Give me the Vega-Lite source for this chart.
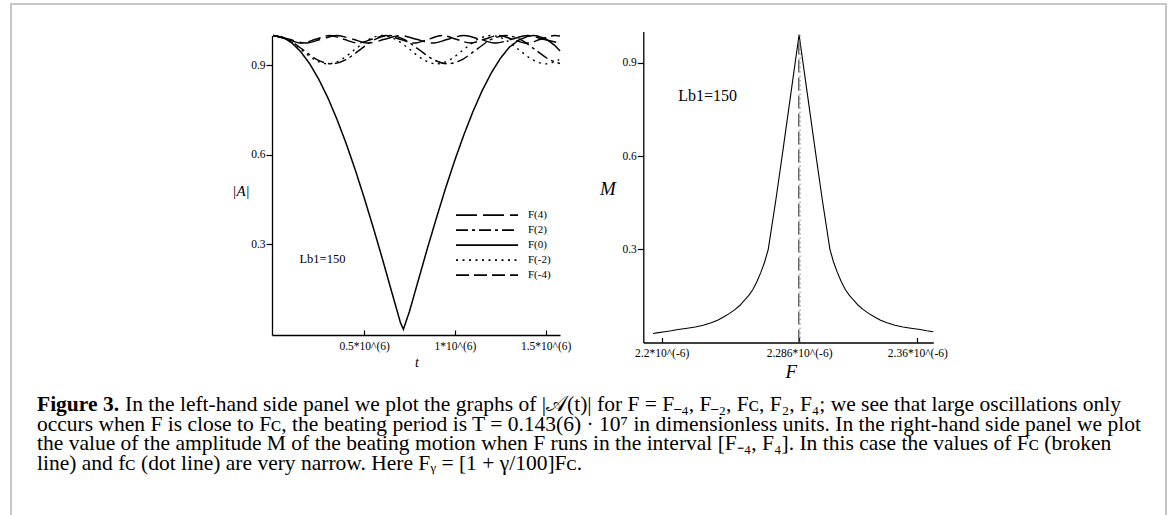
{
  "$schema": "https://vega.github.io/schema/vega-lite/v6.json",
  "width": 1155,
  "height": 515,
  "autosize": {"type": "none"},
  "padding": {"left": 11, "top": 4, "right": 7, "bottom": -4},
  "background": "white",
  "config": {
    "view": {"stroke": "#c6c6c6", "strokeWidth": 2},
    "font": "Liberation Serif",
    "axis": {
      "domainColor": "black", "tickColor": "black", "labelColor": "black", "titleColor": "black",
      "grid": false, "labelFont": "Liberation Serif", "titleFont": "Liberation Serif",
      "titleFontWeight": "normal", "domainWidth": 1.3, "tickWidth": 1.2, "labelFontSize": 11.5,
      "labelFlush": false, "labelOverlap": false
    },
    "legend": {"labelFont": "Liberation Serif", "labelColor": "black"}
  },
  "datasets": {
    "A0": [
      {"s":"F(0)","t":0,"A":1.0},{"s":"F(0)","t":0.05,"A":0.994},{"s":"F(0)","t":0.1,"A":0.976},{"s":"F(0)","t":0.15,"A":0.946},
      {"s":"F(0)","t":0.2,"A":0.905},{"s":"F(0)","t":0.25,"A":0.853},{"s":"F(0)","t":0.3,"A":0.791},{"s":"F(0)","t":0.35,"A":0.719},
      {"s":"F(0)","t":0.4,"A":0.639},{"s":"F(0)","t":0.45,"A":0.551},{"s":"F(0)","t":0.5,"A":0.456},{"s":"F(0)","t":0.55,"A":0.356},
      {"s":"F(0)","t":0.6,"A":0.252},{"s":"F(0)","t":0.65,"A":0.144},{"s":"F(0)","t":0.7,"A":0.037},{"s":"F(0)","t":0.716,"A":0.015},
      {"s":"F(0)","t":0.75,"A":0.076},{"s":"F(0)","t":0.8,"A":0.183},{"s":"F(0)","t":0.85,"A":0.29},{"s":"F(0)","t":0.9,"A":0.392},
      {"s":"F(0)","t":0.95,"A":0.491},{"s":"F(0)","t":1.0,"A":0.583},{"s":"F(0)","t":1.05,"A":0.668},{"s":"F(0)","t":1.1,"A":0.746},
      {"s":"F(0)","t":1.15,"A":0.815},{"s":"F(0)","t":1.2,"A":0.874},{"s":"F(0)","t":1.25,"A":0.923},{"s":"F(0)","t":1.3,"A":0.961},
      {"s":"F(0)","t":1.35,"A":0.984},{"s":"F(0)","t":1.4,"A":0.997},{"s":"F(0)","t":1.432,"A":1.0},{"s":"F(0)","t":1.45,"A":0.999},
      {"s":"F(0)","t":1.5,"A":0.989},{"s":"F(0)","t":1.55,"A":0.967},{"s":"F(0)","t":1.579,"A":0.948}
    ],
    "Aosc": [
      {"s":"F(4)","t":0,"A":1},{"s":"F(4)","t":0.0875,"A":0.9874},{"s":"F(4)","t":0.175,"A":0.9747},{"s":"F(4)","t":0.2625,"A":0.9874},
      {"s":"F(4)","t":0.35,"A":1},{"s":"F(4)","t":0.4375,"A":0.9874},{"s":"F(4)","t":0.525,"A":0.9747},{"s":"F(4)","t":0.6125,"A":0.9874},
      {"s":"F(4)","t":0.7,"A":1},{"s":"F(4)","t":0.7875,"A":0.9874},{"s":"F(4)","t":0.875,"A":0.9747},{"s":"F(4)","t":0.9625,"A":0.9874},
      {"s":"F(4)","t":1.05,"A":1},{"s":"F(4)","t":1.1375,"A":0.9874},{"s":"F(4)","t":1.225,"A":0.9747},{"s":"F(4)","t":1.3125,"A":0.9874},
      {"s":"F(4)","t":1.4,"A":1},{"s":"F(4)","t":1.4875,"A":0.9874},{"s":"F(4)","t":1.575,"A":0.9747},

      {"s":"F(-4)","t":0,"A":1},{"s":"F(-4)","t":0.0775,"A":0.9874},{"s":"F(-4)","t":0.155,"A":0.9747},{"s":"F(-4)","t":0.2325,"A":0.9874},
      {"s":"F(-4)","t":0.31,"A":1},{"s":"F(-4)","t":0.3875,"A":0.9874},{"s":"F(-4)","t":0.465,"A":0.9747},{"s":"F(-4)","t":0.5425,"A":0.9874},
      {"s":"F(-4)","t":0.62,"A":1},{"s":"F(-4)","t":0.6975,"A":0.9874},{"s":"F(-4)","t":0.775,"A":0.9747},{"s":"F(-4)","t":0.8525,"A":0.9874},
      {"s":"F(-4)","t":0.93,"A":1},{"s":"F(-4)","t":1.0075,"A":0.9874},{"s":"F(-4)","t":1.085,"A":0.9747},{"s":"F(-4)","t":1.1625,"A":0.9874},
      {"s":"F(-4)","t":1.24,"A":1},{"s":"F(-4)","t":1.3175,"A":0.9874},{"s":"F(-4)","t":1.395,"A":0.9747},{"s":"F(-4)","t":1.4725,"A":0.9874},
      {"s":"F(-4)","t":1.55,"A":1},{"s":"F(-4)","t":1.579,"A":0.9983},

      {"s":"F(2)","t":0,"A":1},{"s":"F(2)","t":0.08,"A":0.9867},{"s":"F(2)","t":0.16,"A":0.9537},{"s":"F(2)","t":0.24,"A":0.9195},
      {"s":"F(2)","t":0.32,"A":0.905},{"s":"F(2)","t":0.4,"A":0.9195},{"s":"F(2)","t":0.48,"A":0.9537},{"s":"F(2)","t":0.56,"A":0.9867},
      {"s":"F(2)","t":0.64,"A":1},{"s":"F(2)","t":0.72,"A":0.9867},{"s":"F(2)","t":0.8,"A":0.9537},{"s":"F(2)","t":0.88,"A":0.9195},
      {"s":"F(2)","t":0.96,"A":0.905},{"s":"F(2)","t":1.04,"A":0.9195},{"s":"F(2)","t":1.12,"A":0.9537},{"s":"F(2)","t":1.2,"A":0.9867},
      {"s":"F(2)","t":1.28,"A":1},{"s":"F(2)","t":1.36,"A":0.9867},{"s":"F(2)","t":1.44,"A":0.9537},{"s":"F(2)","t":1.52,"A":0.9195},
      {"s":"F(2)","t":1.579,"A":0.906},

      {"s":"F(-2)","t":0,"A":1},{"s":"F(-2)","t":0.075,"A":0.9867},{"s":"F(-2)","t":0.15,"A":0.9537},{"s":"F(-2)","t":0.225,"A":0.9195},
      {"s":"F(-2)","t":0.3,"A":0.905},{"s":"F(-2)","t":0.375,"A":0.9195},{"s":"F(-2)","t":0.45,"A":0.9537},{"s":"F(-2)","t":0.525,"A":0.9867},
      {"s":"F(-2)","t":0.6,"A":1},{"s":"F(-2)","t":0.675,"A":0.9867},{"s":"F(-2)","t":0.75,"A":0.9537},{"s":"F(-2)","t":0.825,"A":0.9195},
      {"s":"F(-2)","t":0.9,"A":0.905},{"s":"F(-2)","t":0.975,"A":0.9195},{"s":"F(-2)","t":1.05,"A":0.9537},{"s":"F(-2)","t":1.125,"A":0.9867},
      {"s":"F(-2)","t":1.2,"A":1},{"s":"F(-2)","t":1.275,"A":0.9867},{"s":"F(-2)","t":1.35,"A":0.9537},{"s":"F(-2)","t":1.425,"A":0.9195},
      {"s":"F(-2)","t":1.5,"A":0.905},{"s":"F(-2)","t":1.575,"A":0.9195}
    ],
    "M": [
      {"F":2.1946,"M":0.029},{"F":2.198,"M":0.032},{"F":2.202,"M":0.035},{"F":2.206,"M":0.038},{"F":2.2103,"M":0.042},
      {"F":2.216,"M":0.046},{"F":2.221,"M":0.05},{"F":2.226,"M":0.056},{"F":2.231,"M":0.064},{"F":2.235,"M":0.072},
      {"F":2.239,"M":0.083},{"F":2.2425,"M":0.094},{"F":2.246,"M":0.107},{"F":2.249,"M":0.12},{"F":2.252,"M":0.137},
      {"F":2.2545,"M":0.152},{"F":2.257,"M":0.17},{"F":2.2595,"M":0.195},{"F":2.262,"M":0.225},{"F":2.2645,"M":0.26},
      {"F":2.2667,"M":0.3},{"F":2.2715,"M":0.46},{"F":2.276,"M":0.622},{"F":2.281,"M":0.806},{"F":2.286,"M":0.99},
      {"F":2.291,"M":0.806},{"F":2.296,"M":0.622},{"F":2.3005,"M":0.46},{"F":2.3053,"M":0.3},{"F":2.3075,"M":0.26},
      {"F":2.31,"M":0.225},{"F":2.3125,"M":0.195},{"F":2.315,"M":0.17},{"F":2.3175,"M":0.152},{"F":2.32,"M":0.137},
      {"F":2.323,"M":0.12},{"F":2.326,"M":0.107},{"F":2.3295,"M":0.094},{"F":2.333,"M":0.083},{"F":2.337,"M":0.072},
      {"F":2.341,"M":0.064},{"F":2.346,"M":0.056},{"F":2.351,"M":0.05},{"F":2.356,"M":0.046},{"F":2.3617,"M":0.042},
      {"F":2.366,"M":0.038},{"F":2.37,"M":0.035}
    ]
  },
  "layer": [
    {
      "layer": [
        {
          "data": {"name": "Aosc"},
          "mark": {"type": "line", "interpolate": "monotone", "color": "black", "strokeWidth": 1.4},
          "encoding": {
            "x": {"field": "t", "type": "quantitative",
              "scale": {"domain": [-0.008, 1.579], "range": [261, 549], "nice": false, "zero": false},
              "axis": {"orient": "bottom", "offset": -184, "values": [0.5, 1, 1.5],
                "labelExpr": "datum.value + '*10^(6)'", "tickSize": -5, "labelPadding": 10,
                "title": "t", "titleFontStyle": "italic", "titleFontSize": 14, "titleX": 405.5, "titleY": 27.5,
                "titleAngle": 0, "titleAlign": "center", "titleBaseline": "middle"}},
            "y": {"field": "A", "type": "quantitative",
              "scale": {"domain": [-0.004, 1.0], "range": [331, 31.5], "nice": false, "zero": false},
              "axis": {"orient": "left", "offset": -261, "values": [0.3, 0.6, 0.9], "format": ".1f",
                "tickSize": 6, "labelPadding": 1,
                "title": "|A|", "titleFontStyle": "italic", "titleFontSize": 15, "titleX": -31.5, "titleY": 186,
                "titleAngle": 0, "titleAlign": "center", "titleBaseline": "middle"}},
            "strokeDash": {"field": "s", "type": "nominal",
              "scale": {"domain": ["F(4)", "F(2)", "F(0)", "F(-2)", "F(-4)"],
                "range": [[21, 6], [12, 4, 3, 4], [1, 0], [2, 4.5], [13, 5]]},
              "legend": {"orient": "none", "legendX": 444, "legendY": 203.7, "title": null,
                "symbolType": "stroke", "symbolSize": 3844, "symbolStrokeWidth": 1.8,
                "symbolStrokeColor": "black", "clipHeight": 14.7, "rowPadding": 0, "padding": 0,
                "labelFontSize": 11, "labelOffset": 9, "direction": "vertical"}}
          }
        },
        {
          "data": {"name": "A0"},
          "mark": {"type": "line", "color": "black", "strokeWidth": 1.5},
          "encoding": {
            "x": {"field": "t", "type": "quantitative"},
            "y": {"field": "A", "type": "quantitative"},
            "strokeDash": {"field": "s", "type": "nominal"}
          }
        },
        {
          "data": {"values": [{"label": "Lb1=150"}]},
          "mark": {"type": "text", "fontSize": 12.5, "font": "Liberation Serif", "color": "black"},
          "encoding": {
            "x": {"datum": 0.27, "type": "quantitative"},
            "y": {"datum": 0.251, "type": "quantitative"},
            "text": {"field": "label"}
          }
        }
      ]
    },
    {
      "layer": [
        {
          "data": {"name": "M"},
          "mark": {"type": "line", "color": "black", "strokeWidth": 1.1},
          "encoding": {
            "x": {"field": "F", "type": "quantitative",
              "scale": {"domain": [2.1885, 2.37], "range": [632.3, 922.3], "nice": false, "zero": false},
              "axis": {"orient": "bottom", "offset": -176.5, "values": [2.2, 2.286, 2.36],
                "labelExpr": "datum.value + '*10^(-6)'", "tickSize": -5, "labelPadding": 10,
                "title": "F", "titleFontStyle": "italic", "titleFontSize": 19, "titleX": 779.7, "titleY": 29.2,
                "titleAngle": 0, "titleAlign": "center", "titleBaseline": "middle"}},
            "y": {"field": "M", "type": "quantitative",
              "scale": {"domain": [0, 1], "range": [338.6, 27.6], "nice": false, "zero": false},
              "axis": {"orient": "left", "offset": -632.3, "values": [0.3, 0.6, 0.9], "format": ".1f",
                "tickSize": 6, "labelPadding": 1,
                "title": "M", "titleFontStyle": "italic", "titleFontSize": 19, "titleX": -35.8, "titleY": 184,
                "titleAngle": 0, "titleAlign": "center", "titleBaseline": "middle"}}
          }
        },
        {
          "data": {"values": [{}]},
          "mark": {"type": "rule", "color": "#555555", "strokeWidth": 1.3, "strokeDash": [13, 5]},
          "encoding": {
            "x": {"datum": 2.2858, "type": "quantitative"},
            "y": {"datum": 0, "type": "quantitative"},
            "y2": {"datum": 0.99}
          }
        },
        {
          "data": {"values": [{}]},
          "mark": {"type": "rule", "color": "#777777", "strokeWidth": 1, "strokeDash": [1.5, 3]},
          "encoding": {
            "x": {"datum": 2.2866, "type": "quantitative"},
            "y": {"datum": 0, "type": "quantitative"},
            "y2": {"datum": 0.99}
          }
        },
        {
          "data": {"values": [{"label": "Lb1=150"}]},
          "mark": {"type": "text", "fontSize": 16, "font": "Liberation Serif", "color": "black"},
          "encoding": {
            "x": {"datum": 2.2287, "type": "quantitative"},
            "y": {"datum": 0.793, "type": "quantitative"},
            "text": {"field": "label"}
          }
        }
      ]
    },
    {
      "layer": [
        {
          "data": {"values": [{"line": 1, "text": "Figure 3."}]},
          "mark": {"type": "text", "align": "left", "baseline": "middle", "fontSize": 21.5, "fontWeight": "bold", "font": "Liberation Serif", "color": "black"},
          "encoding": {
            "x": {"datum": 0, "type": "quantitative", "scale": {"domain": [0, 1], "range": [26, 1100], "nice": false, "zero": false}, "axis": null},
            "y": {"field": "line", "type": "quantitative", "scale": {"domain": [1, 4], "range": [401, 459.5], "nice": false, "zero": false}, "axis": null},
            "text": {"field": "text"}
          }
        },
        {
          "data": {"values": [{"line": 1, "text": "In the left-hand side panel we plot the graphs of |𝒜(t)| for F = F₋₄, F₋₂, Fᴄ, F₂, F₄; we see that large oscillations only"}]},
          "mark": {"type": "text", "align": "left", "baseline": "middle", "fontSize": 21.5, "font": "Liberation Serif", "color": "black", "dx": 88},
          "encoding": {
            "x": {"datum": 0, "type": "quantitative"},
            "y": {"field": "line", "type": "quantitative"},
            "text": {"field": "text"}
          }
        },
        {
          "data": {"values": [
            {"line": 2, "text": "occurs when F is close to Fᴄ, the beating period is T = 0.143(6) · 10⁷ in dimensionless units. In the right-hand side panel we plot"},
            {"line": 3, "text": "the value of the amplitude M of the beating motion when F runs in the interval [F₋₄, F₄]. In this case the values of Fᴄ (broken"},
            {"line": 4, "text": "line) and fᴄ (dot line) are very narrow. Here Fᵧ = [1 + γ/100]Fᴄ."}
          ]},
          "mark": {"type": "text", "align": "left", "baseline": "middle", "fontSize": 21.5, "font": "Liberation Serif", "color": "black"},
          "encoding": {
            "x": {"datum": 0, "type": "quantitative"},
            "y": {"field": "line", "type": "quantitative"},
            "text": {"field": "text"}
          }
        }
      ]
    }
  ],
  "resolve": {
    "scale": {"x": "independent", "y": "independent"},
    "axis": {"x": "independent", "y": "independent"}
  }
}
